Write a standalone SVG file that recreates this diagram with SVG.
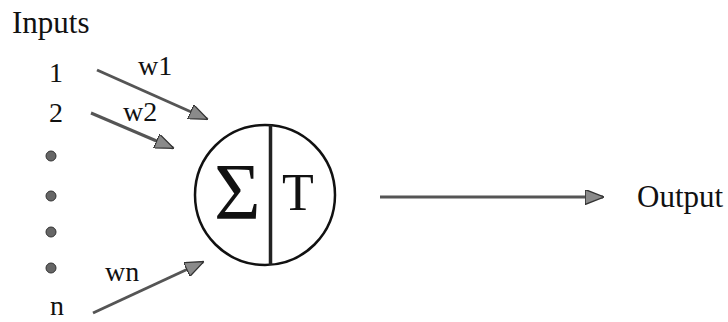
<svg xmlns="http://www.w3.org/2000/svg" width="728" height="322" viewBox="0 0 728 322">
<style>
text{font-family:"Liberation Serif","Times New Roman",serif;fill:#111}
.lbl{font-size:28px}
.big{font-size:31px}
.conn{stroke:#555;stroke-width:3;fill:none;marker-end:url(#ah)}
.dot{fill:#666;stroke:#333;stroke-width:1}
</style>
<defs>
<marker id="ah" viewBox="0 0 10 8" refX="9.5" refY="4" markerWidth="6.5" markerHeight="5" markerUnits="strokeWidth" orient="auto">
<path d="M0,0 L10,4 L0,8 Z" fill="#8a8a8a" stroke="#333" stroke-width="0.7"/>
</marker>
</defs>
<rect width="728" height="322" fill="#fff"/>
<g id="inputs-title"><text class="big" x="12" y="33">Inputs</text></g>
<g id="input-1"><text class="lbl" x="49" y="82">1</text></g>
<g id="input-2"><text class="lbl" x="49" y="122">2</text></g>
<g id="input-dots">
<circle class="dot" cx="51" cy="156" r="5"/>
<circle class="dot" cx="51" cy="196" r="5"/>
<circle class="dot" cx="51" cy="232" r="5"/>
<circle class="dot" cx="51" cy="268" r="5"/>
</g>
<g id="input-n"><text class="lbl" x="50" y="315">n</text></g>
<g id="neuron">
<circle cx="265" cy="195" r="70" fill="none" stroke="#111" stroke-width="2.5"/>
<line x1="270.5" y1="125" x2="270.5" y2="265" stroke="#222" stroke-width="3.5"/>
<text x="214" y="219" font-size="80">Σ</text>
<text x="282" y="210" font-size="52">T</text>
</g>
<g id="output"><text class="big" x="637" y="207">Output</text></g>
<g id="connectors">
<line class="conn" x1="97" y1="70" x2="207" y2="119"/>
<line class="conn" x1="91" y1="113" x2="173" y2="148"/>
<line class="conn" x1="93" y1="313" x2="203" y2="262"/>
<line class="conn" x1="380" y1="197" x2="603" y2="197"/>
<text class="lbl" x="138" y="75">w1</text>
<text class="lbl" x="123" y="121">w2</text>
<text class="lbl" x="105" y="281">wn</text>
</g>
</svg>
